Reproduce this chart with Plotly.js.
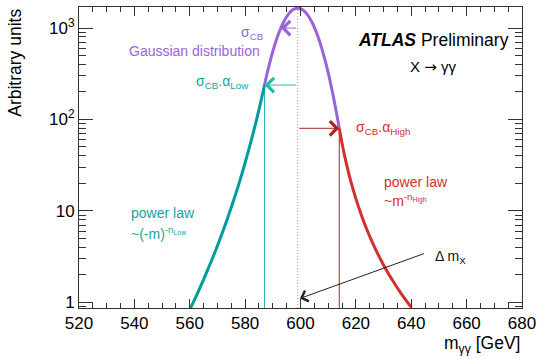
<!DOCTYPE html>
<html>
<head>
<meta charset="utf-8">
<script src="https://cdn.plot.ly/plotly-3.0.1.min.js"></script>
<style>html,body{margin:0;padding:0;background:#fff;}#chart{width:537px;height:359px;}</style>
</head>
<body>
<div id="chart"></div>
<script>
// Left power-law tail (teal)
const massLow = [560, 562, 564, 566, 568, 570, 572, 574, 576, 578, 580, 582, 584, 585, 586, 587];
const yLow    = [0.83, 1.11, 1.51, 2.09, 2.92, 4.15, 6.02, 8.91, 13.5, 20.9, 33.6, 55.8, 96.1, 128, 174, 238];
// Gaussian core (purple)
const massGauss = [587, 588, 589, 590, 591, 592, 593, 594, 595, 596, 597, 598, 599, 600, 601, 602, 603, 604, 605, 606, 607, 608, 609, 610, 611, 612, 613, 614];
const yGauss    = [238, 325, 430, 556, 698, 854, 1017, 1179, 1331, 1462, 1564, 1628, 1650, 1628, 1564, 1462, 1331, 1179, 1017, 854, 698, 556, 430, 325, 238, 170, 118, 80];
// Right power-law tail (red)
const massHigh = [614, 615, 616, 618, 620, 622, 624, 626, 628, 630, 632, 634, 636, 638, 640];
const yHigh    = [80, 54.8, 39.2, 22.0, 13.6, 8.96, 6.22, 4.49, 3.34, 2.56, 2.00, 1.60, 1.29, 1.06, 0.88];

// Key positions
const meanMass = 599;
const peakY = 1650;
const sigmaMass = 592.9;  const sigmaY = 1000;
const lowJoinMass = 587;  const lowJoinY = 238;
const highJoinMass = 614; const highJoinY = 80;
const yBottom = 0.865;
const deltaFrom = [645.1, 3.45];
const deltaTo = [599.8, 1.1];

const xTicks = [520, 540, 560, 580, 600, 620, 640, 660, 680];
const yTickVals = [1, 10, 100, 1000];
const yTickText = ['1', '10', '10<sup>2</sup>', '10<sup>3</sup>'];
const yMinor = [0.9, 2,3,4,5,6,7,8,9, 20,30,40,50,60,70,80,90, 200,300,400,500,600,700,800,900];

const purple = '#9b63d9';
const teal = '#009c9c';
const tealText = '#16a3a3';
const red = '#d22f2f';
const FONT = 'Liberation Sans, Arial, Helvetica, sans-serif';

const traces = [
  {x: [meanMass, meanMass], y: [yBottom, peakY], mode: 'lines', line: {color: '#999', width: 1, dash: '1px,2px'}, hoverinfo: 'skip'},
  {x: [lowJoinMass, lowJoinMass], y: [yBottom, lowJoinY], mode: 'lines', line: {color: '#2bb5b5', width: 1}, hoverinfo: 'skip'},
  {x: [highJoinMass, highJoinMass], y: [yBottom, highJoinY], mode: 'lines', line: {color: '#b02020', width: 1}, hoverinfo: 'skip'},
  {x: massLow, y: yLow, mode: 'lines', line: {color: teal, width: 3, shape: 'spline'}},
  {x: massGauss, y: yGauss, mode: 'lines', line: {color: purple, width: 3, shape: 'spline'}},
  {x: massHigh, y: yHigh, mode: 'lines', line: {color: red, width: 3, shape: 'spline'}}
];

const L = Math.log10;
function arrow(tx, ty, fx, fy, color, head, size) {
  return {x: tx, y: L(ty), ax: fx, ay: L(fy), xref: 'x', yref: 'y', axref: 'x', ayref: 'y',
    text: '', showarrow: true, arrowhead: head, arrowsize: size, arrowwidth: 1, arrowcolor: color, standoff: 0, startstandoff: 0};
}
function label(text, x, y, color, size, xanchor) {
  return {text: text, x: x, y: y, xref: 'paper', yref: 'paper', showarrow: false,
    xanchor: xanchor || 'center', yanchor: 'middle', font: {family: FONT, size: size, color: color}};
}

const annotations = [
  arrow(sigmaMass, sigmaY, meanMass, sigmaY, purple, 4, 2.8),
  arrow(lowJoinMass, lowJoinY, meanMass, lowJoinY, '#2bb5b5', 4, 2.8),
  arrow(highJoinMass, highJoinY, meanMass, highJoinY, '#b02020', 4, 2.8),
  arrow(deltaTo[0], deltaTo[1], deltaFrom[0], deltaFrom[1], '#222', 4, 2.2),
  label('σ<sub>CB</sub>', 0.391, 0.914, purple, 14),
  label('Gaussian distribution', 0.261, 0.855, purple, 14),
  label('σ<sub>CB</sub>.α<sub>Low</sub>', 0.324, 0.752, tealText, 14),
  label('σ<sub>CB</sub>.α<sub>High</sub>', 0.621, 0.598, red, 14, 'left'),
  label('power law', 0.683, 0.418, red, 14, 'left'),
  label('~m<sup>-n<sub>High</sub></sup>', 0.683, 0.36, red, 14, 'left'),
  label('power law', 0.113, 0.316, tealText, 14, 'left'),
  label('~(-m)<sup>-n<sub>Low</sub></sup>', 0.113, 0.25, tealText, 14, 'left'),
  label('Δ m<sub>X</sub>', 0.798, 0.17, '#111', 14, 'left'),
  label('<b><i>ATLAS</i></b> Preliminary', 0.626, 0.89, '#000', 17.5, 'left'),
  label('X <span style="font-family:DejaVu Sans">→</span> γγ', 0.799, 0.802, '#000', 15),
  {text: 'Arbitrary units', x: -0.145, y: 1.0, xref: 'paper', yref: 'paper', showarrow: false, textangle: -90,
    xanchor: 'center', yanchor: 'top', font: {family: FONT, size: 17.5, color: '#000'}},
  {text: 'm<sub>γγ</sub> [GeV]', x: 1.0, y: -0.122, xref: 'paper', yref: 'paper', showarrow: false,
    xanchor: 'right', yanchor: 'middle', font: {family: FONT, size: 17.5, color: '#000'}}
];

const layout = {
  width: 537, height: 359,
  margin: {l: 79, r: 15, t: 7, b: 51},
  paper_bgcolor: '#fff', plot_bgcolor: '#fff',
  showlegend: false,
  font: {family: FONT, size: 17, color: '#000'},
  xaxis: {
    range: [520, 680], tickvals: xTicks, ticks: 'inside', ticklen: 9, tickwidth: 1, tickcolor: '#333',
    showline: true, linecolor: '#333', linewidth: 1, mirror: 'allticks', showgrid: false, zeroline: false,
    tickfont: {family: FONT, size: 17, color: '#000'},
    minor: {dtick: 5, ticks: 'inside', ticklen: 5, tickcolor: '#333', showgrid: false}
  },
  yaxis: {
    type: 'log', range: [L(yBottom), L(1700)], tickmode: 'array', tickvals: yTickVals, ticktext: yTickText,
    ticks: 'inside', ticklen: 14, tickwidth: 1, tickcolor: '#333',
    showline: true, linecolor: '#333', linewidth: 1, mirror: 'allticks', showgrid: false, zeroline: false,
    tickfont: {family: FONT, size: 17, color: '#000'},
    minor: {tickmode: 'array', tickvals: yMinor, ticks: 'inside', ticklen: 7, tickcolor: '#333', showgrid: false}
  },
  annotations: annotations
};

Plotly.newPlot('chart', traces, layout, {staticPlot: true, displayModeBar: false});
</script>
</body>
</html>
